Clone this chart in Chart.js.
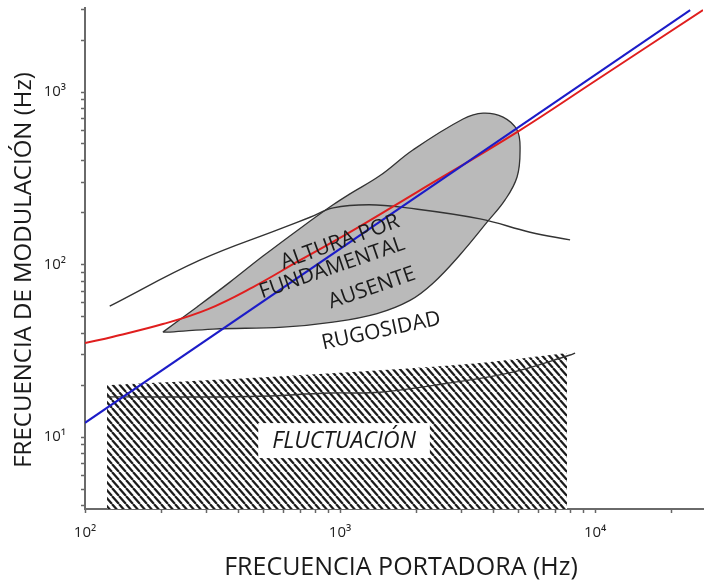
<!DOCTYPE html>
<html>
<head>
<meta charset="utf-8">
<script src="https://cdn.jsdelivr.net/npm/chart.js@4/dist/chart.umd.min.js"></script>
<style>
  html, body { margin: 0; padding: 0; background: #fff; }
  #wrap { width: 707px; height: 585px; }
</style>
</head>
<body>
<div id="wrap"><canvas id="c" width="707" height="585"></canvas></div>
<script>
// Carrier frequency (Hz) vs. modulation frequency (Hz)

// Red boundary curve
const redFc = [100, 129, 202, 304, 456, 697, 1094, 2004, 4945, 10000, 26500];
const redFm = [35.1, 38.2, 45.2, 55.2, 74.1, 106, 154, 263, 586, 1159, 2990];

// Blue straight line
const blueFc = [100, 23600];
const blueFm = [12.1, 2985];

// Thin black curve rising then falling
const peakFc = [125, 282, 582, 763, 940, 1300, 1833, 3540, 5560, 7980];
const peakFm = [57.4, 106, 161, 188, 213, 222, 213, 184, 154, 139];

// Grey region outline (closed, starting and ending at the left tip)
const regionFc = [202, 275, 370, 499, 697, 939, 1094, 1435, 1936, 3037, 3638, 4358, 4945, 5081,
                  4945, 4437, 3771, 2955, 2315, 1881, 1397, 939, 598, 318, 215, 202];
const regionFm = [40.6, 56.8, 79.1, 112, 162, 222, 257, 328, 463, 698, 755, 716, 602, 461,
                  322, 237, 176, 114, 78, 62, 52, 46.4, 43.4, 42.3, 40.6, 40.6];

// Upper edge of the hatched band (filled down to the axis)
const hatchFc = [122, 444, 1435, 3540, 7762];
const hatchFm = [20, 22, 24.4, 26.9, 30.7];

// Thin curve crossing the hatched band
const lowFc = [122, 444, 914, 1435, 2630, 4760, 7980, 8350];
const lowFm = [17.1, 17.2, 18.0, 18.2, 20.5, 23.8, 29.9, 30.7];

// Axis ticks
const xTickValues = [100, 200, 300, 400, 500, 600, 700, 800, 900,
                     1000, 2000, 3000, 4000, 5000, 6000, 7000, 8000, 9000, 10000, 20000];
const xTickLabels = { 100: '10²', 1000: '10³', 10000: '10⁴' };
const yTickValues = [4, 5, 6, 7, 8, 9, 10, 20, 30, 40, 50, 60, 70, 80, 90,
                     100, 200, 300, 400, 500, 600, 700, 800, 900, 1000, 2000, 3000];
const yTickLabels = { 10: '10¹', 100: '10²', 1000: '10³' };

// Region names, anchored in data coordinates
const labelText  = ['ALTURA POR', 'FUNDAMENTAL', 'AUSENTE', 'RUGOSIDAD', 'FLUCTUACIÓN'];
const labelFc    = [1000, 931, 1334, 1449, 1037];
const labelFm    = [135, 95.5, 73.1, 41.2, 9.48];
const labelAngle = [-20, -19, -19, -12, 0];

const xTitle = 'FRECUENCIA PORTADORA (Hz)';
const yTitle = 'FRECUENCIA DE MODULACIÓN (Hz)';

const pts = (xs, ys) => xs.map((v, i) => ({ x: v, y: ys[i] }));

function hatchPattern() {
  const w = 7, h = 8;
  const c = document.createElement('canvas');
  c.width = w; c.height = h;
  const g = c.getContext('2d');
  g.fillStyle = '#ffffff';
  g.fillRect(0, 0, w, h);
  g.strokeStyle = '#1c1c1c';
  g.lineWidth = 2.2;
  g.beginPath();
  for (const dx of [-w, 0, w]) { g.moveTo(dx, 0); g.lineTo(dx + w, h); }
  g.stroke();
  return g.createPattern(c, 'repeat');
}

const FONT = '"Open Sans", "DejaVu Sans", sans-serif';

const regionLabels = {
  id: 'regionLabels',
  afterDatasetsDraw(chart) {
    const { ctx, scales: { x, y } } = chart;
    labelText.forEach((t, i) => {
      const px = x.getPixelForValue(labelFc[i]);
      const py = y.getPixelForValue(labelFm[i]);
      const boxed = i === 4;
      ctx.save();
      ctx.translate(px, py);
      ctx.rotate(labelAngle[i] * Math.PI / 180);
      ctx.font = boxed ? 'italic 23px ' + FONT : '21px ' + FONT;
      ctx.textAlign = 'center';
      ctx.textBaseline = 'middle';
      if (boxed) {
        const w = ctx.measureText(t).width;
        ctx.fillStyle = '#ffffff';
        ctx.fillRect(-w / 2 - 14, -18, w + 28, 35);
      }
      ctx.fillStyle = '#1a1a1a';
      ctx.fillText(t, 0, 0);
      ctx.restore();
    });
  },
  afterDraw(chart) {
    const { ctx } = chart;
    ctx.save();
    ctx.fillStyle = '#1a1a1a';
    ctx.textAlign = 'center';
    ctx.textBaseline = 'middle';
    ctx.font = '25px ' + FONT;
    ctx.fillText(xTitle, 401, 568);
    ctx.font = '24px ' + FONT;
    ctx.translate(24, 270);
    ctx.rotate(-Math.PI / 2);
    ctx.fillText(yTitle, 0, 0);
    ctx.restore();
  }
};

const axisCommon = {
  type: 'logarithmic',
  grid: { drawOnChartArea: false, tickLength: 4, tickColor: '#666', tickWidth: 1.5 },
  border: { color: '#6a6a6a', width: 2 },
};

new Chart(document.getElementById('c'), {
  type: 'scatter',
  data: {
    datasets: [
      { label: 'azul', data: pts(blueFc, blueFm), showLine: true, borderColor: '#1c1cc8',
        borderWidth: 2, pointRadius: 0, fill: false, order: 0 },
      { label: 'rojo', data: pts(redFc, redFm), showLine: true, borderColor: '#e01e1e',
        borderWidth: 2, pointRadius: 0, tension: 0.4, fill: false, order: 1 },
      { label: 'curva', data: pts(peakFc, peakFm), showLine: true, borderColor: '#333333',
        borderWidth: 1.4, pointRadius: 0, tension: 0.4, fill: false, order: 2 },
      { label: 'límite', data: pts(lowFc, lowFm), showLine: true, borderColor: '#333333',
        borderWidth: 1.4, pointRadius: 0, tension: 0.4, fill: false, order: 3 },
      { label: 'altura', data: pts(regionFc, regionFm), showLine: true, borderColor: '#333333',
        borderWidth: 1.3, backgroundColor: '#bababa', pointRadius: 0, tension: 0.4,
        fill: 'shape', order: 4 },
      { label: 'fluctuación', data: pts(hatchFc, hatchFm), showLine: true, borderWidth: 0,
        borderColor: 'rgba(0,0,0,0)', backgroundColor: hatchPattern(), pointRadius: 0,
        tension: 0.3, fill: 'start', order: 5 },
    ]
  },
  options: {
    responsive: false,
    animation: false,
    devicePixelRatio: 1,
    layout: { padding: { left: 0, right: 4, top: 8, bottom: 0 } },
    plugins: { legend: { display: false }, tooltip: { enabled: false } },
    scales: {
      x: Object.assign({}, axisCommon, {
        position: 'bottom', min: 100, max: 26500,
        afterFit: s => { s.height = 76; s.paddingLeft = 0; s.paddingRight = 0; },
        afterBuildTicks: s => { s.ticks = xTickValues.map(v => ({ value: v })); },
        ticks: { autoSkip: false, maxRotation: 0, padding: 11, color: '#222',
          font: { family: FONT, size: 15 },
          callback: v => xTickLabels[v] || '' },
      }),
      y: Object.assign({}, axisCommon, {
        position: 'left', min: 3.83, max: 3070,
        afterFit: s => { s.width = 85; s.paddingTop = 0; s.paddingBottom = 0; },
        afterBuildTicks: s => { s.ticks = yTickValues.map(v => ({ value: v })); },
        ticks: { autoSkip: false, padding: 15, color: '#222',
          font: { family: FONT, size: 15 },
          callback: v => yTickLabels[v] || '' },
      }),
    }
  },
  plugins: [regionLabels]
});
</script>
</body>
</html>
